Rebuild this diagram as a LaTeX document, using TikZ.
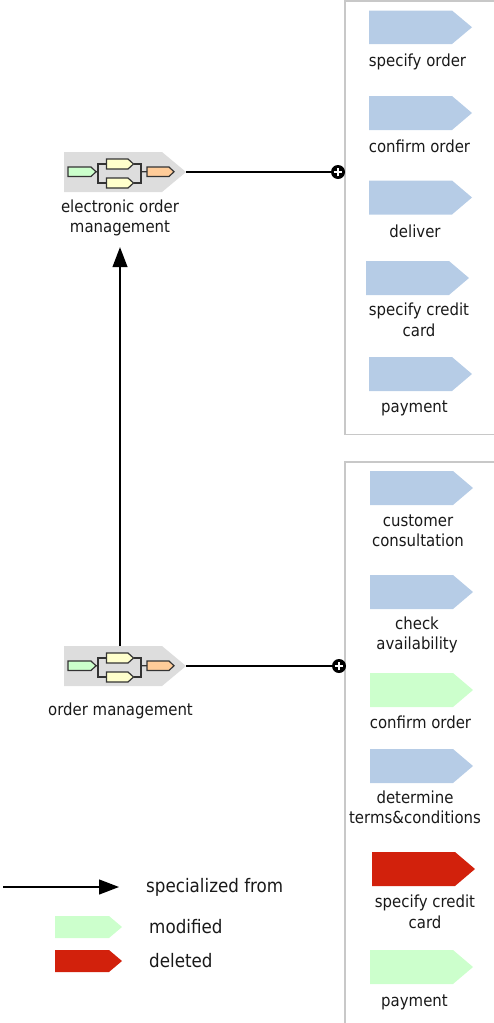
\documentclass[tikz,border=0pt]{standalone}
\usepackage{fontspec}
\setmainfont[FakeStretch=0.9]{DejaVu Sans}
\usetikzlibrary{arrows.meta}
\definecolor{blueC}{HTML}{B6CCE6}
\definecolor{greenC}{HTML}{CCFFCC}
\definecolor{redC}{HTML}{D2210C}
\definecolor{grayC}{HTML}{DDDDDD}
\definecolor{panelC}{HTML}{C8C8C8}
\definecolor{yellowC}{HTML}{FFFFCC}
\definecolor{orangeC}{HTML}{FFCC99}
\definecolor{lineC}{HTML}{333333}
\tikzset{
  txt/.style={inner sep=0pt,align=center,font=\fontsize{16.6}{20.5}\selectfont,text=black!90},
  txtl/.style={inner sep=0pt,anchor=west,font=\fontsize{18.6}{22}\selectfont,text=black!90},
  hull/.style={inner sep=0pt,outer sep=0pt},
  panel/.style={draw=panelC,line width=1.4pt},
  conn/.style={draw=black,line width=1.3pt},
  inner/.style={draw=lineC,line width=1.2pt},
  arrowc/.style={conn,-{Triangle[length=20pt,width=15pt]}},
  plusnode/.style={circle,fill=black,minimum size=14pt,inner sep=0pt,outer sep=0pt},
}
% name, x1, y1, x2, y2, notch x, fill, extra style
\newcommand{\chev}[8]{%
  \path[fill=#7,#8] (#2,#3) -- (#6,#3) -- (#4,{((#3)+(#5))/2}) -- (#6,#5) -- (#2,#5) -- cycle;
  \node[hull,minimum width={((#4)-(#2))*1pt},minimum height={((#5)-(#3))*1pt}] (#1) at ({((#2)+(#4))/2},{((#3)+(#5))/2}) {};
}
% name, y offset
\newcommand{\procshape}[2]{%
  \chev{#1}{64}{152+#2}{186}{192+#2}{162}{grayC}{}
  \chev{#1g}{68}{167+#2}{96}{176.5+#2}{91}{greenC}{inner}
  \chev{#1u}{106.5}{159+#2}{133.5}{169+#2}{128}{yellowC}{inner}
  \chev{#1d}{106.5}{178+#2}{133.5}{188+#2}{128}{yellowC}{inner}
  \chev{#1o}{147}{167+#2}{174}{176.5+#2}{169}{orangeC}{inner}
  \coordinate (#1sl) at (98,171.7+#2);
  \coordinate (#1sr) at (141,171.7+#2);
  \draw[inner] (#1g.east) -- (#1sl);
  \draw[inner] (#1u.west) -| (#1sl);
  \draw[inner] (#1d.west) -| (#1sl);
  \draw[inner] (#1u.east) -| (#1sr);
  \draw[inner] (#1d.east) -| (#1sr);
  \draw[inner] (#1sr) -- (#1o.west);
}
\newcommand{\plusmark}[1]{%
  \draw[white,line width=2pt] ([xshift=-4.4pt]#1.center) -- ([xshift=4.4pt]#1.center);
  \draw[white,line width=2pt] ([yshift=-4.4pt]#1.center) -- ([yshift=4.4pt]#1.center);
}
\begin{document}
\begin{tikzpicture}[x=1pt,y=-1pt]
\useasboundingbox (0,0) rectangle (494,1023);
% panels
\draw[panel] (496,1) -- (345,1) -- (345,434.5) -- (496,434.5);
\draw[panel] (496,462) -- (345,462) -- (345,1026);
% panel 1
\chev{a1}{369}{10.5}{472}{44}{452}{blueC}{}
\node[txt] (la1) at (417.5,61.5) {specify order};
\chev{a2}{369}{96}{472}{130}{452}{blueC}{}
\node[txt] (la2) at (419.5,146) {confirm order};
\chev{a3}{369}{180.5}{472}{214.5}{452}{blueC}{}
\node[txt] (la3) at (415,231) {deliver};
\chev{a4}{366}{261}{469}{295}{449}{blueC}{}
\node[txt] (la4) at (419,320) {specify credit\\card};
\chev{a5}{369}{357}{472}{391}{452}{blueC}{}
\node[txt] (la5) at (414.5,408) {payment};
% panel 2
\chev{b1}{370}{471}{473}{505}{453}{blueC}{}
\node[txt] (lb1) at (418,530.7) {customer\\consultation};
\chev{b2}{370}{575}{473}{609}{453}{blueC}{}
\node[txt] (lb2) at (417,634.7) {check\\availability};
\chev{b3}{370}{673}{473}{707}{453}{greenC}{}
\node[txt] (lb3) at (420.5,722) {confirm order};
\chev{b4}{370}{749}{473}{783}{453}{blueC}{}
\node[txt] (lb4) at (415,807.5) {determine\\terms\&conditions};
\chev{b5}{372}{852}{475}{886}{455}{redC}{}
\node[txt] (lb5) at (425,911.7) {specify credit\\card};
\chev{b6}{370}{950}{473}{984}{453}{greenC}{}
\node[txt] (lb6) at (414.5,1002) {payment};
% processes
\procshape{pa}{0}
\procshape{pb}{494}
\node[txt,minimum height=58pt] (lpa) at (120,218) {electronic order\\management};
\node[txt] (lpb) at (120.5,711) {order management};
% connectors
\node[plusnode] (pla) at (338,172) {};
\node[plusnode] (plb) at (339,666) {};
\draw[conn] (pa.east) -- (pla.center);
\draw[conn] (pb.east) -- (plb.center);
\plusmark{pla}
\plusmark{plb}
\draw[arrowc] (pb.north -| lpa.south) -- (lpa.south);
% legend
\coordinate (lgs) at (3,887);
\node[txtl] (lg1) at (146,887) {specialized from};
\coordinate (lge) at (119,887);
\draw[arrowc] (lgs) -- (lge);
\chev{lg2c}{55}{916}{122}{938}{109}{greenC}{}
\node[txtl] (lg2) at (149,927) {modified};
\chev{lg3c}{55}{950}{122}{972}{109}{redC}{}
\node[txtl] (lg3) at (149,961) {deleted};
\end{tikzpicture}
\end{document}
